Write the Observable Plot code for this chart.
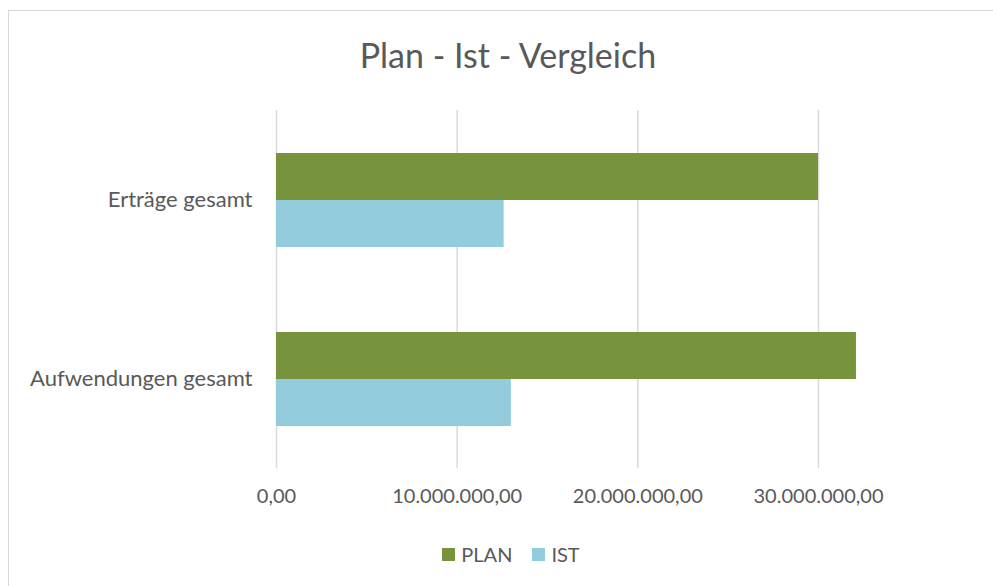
<!DOCTYPE html>
<html>
<head>
<meta charset="utf-8">
<script src="https://cdn.jsdelivr.net/npm/d3@7"></script>
<script src="https://cdn.jsdelivr.net/npm/@observablehq/plot@0.6"></script>
<style>
  html, body { margin: 0; padding: 0; background: #fff; }
  #wrap { position: relative; width: 993px; height: 586px; overflow: hidden; font-family: Lato, "Open Sans", sans-serif; color: #595959; }
  #frame { position: absolute; left: 8px; top: 10px; width: 1200px; height: 800px; border-left: 1.5px solid #d9d9d9; border-top: 1.5px solid #d9d9d9; box-sizing: border-box; }
  #title { position: absolute; left: 8px; width: 1000px; top: 34px; text-align: center; font-size: 34px; line-height: 42px; }
  #chart { position: absolute; left: 0; top: 90px; }
  #chart [aria-label^="fy-axis"] text { font-size: 22px; }
  #legend { position: absolute; left: 8px; width: 1006px; top: 540px; display: flex; justify-content: center; gap: 20px; font-size: 20px; line-height: 28px; }
  .item { display: flex; align-items: center; gap: 6px; }
  .sw { width: 13px; height: 13px; display: inline-block; }
</style>
</head>
<body>
<div id="wrap">
  <div id="frame"></div>
  <div id="title">Plan - Ist - Vergleich</div>
  <div id="chart"></div>
  <div id="legend"></div>
</div>
<script>
const categories = ["Erträge gesamt", "Aufwendungen gesamt"];
const series = ["PLAN", "IST"];
const planValues = [30000000, 32100000];
const istValues = [12600000, 13000000];
const xTicks = [0, 10000000, 20000000, 30000000];
const colors = ["#77933C", "#93CDDD"];

const data = categories.flatMap((c, i) => [
  { category: c, series: "PLAN", value: planValues[i] },
  { category: c, series: "IST", value: istValues[i] }
]);

const de = d3.formatLocale({ decimal: ",", thousands: ".", grouping: [3], currency: ["", " €"] });
const fmt = de.format(",.2f");

const chart = Plot.plot({
  width: 993,
  height: 430,
  marginTop: 20,
  marginBottom: 52,
  marginLeft: 276,
  marginRight: 175,
  style: { fontFamily: "Lato, 'Open Sans', sans-serif", fontSize: "20px", color: "#595959", background: "transparent", overflow: "visible" },
  x: { domain: [0, 30000000], ticks: xTicks, tickFormat: fmt, label: null, tickSize: 0, tickPadding: 20 },
  fy: { domain: categories, padding: 0, label: null, axis: "left", tickSize: 0, tickPadding: 24 },
  y: { domain: series, paddingInner: 0, paddingOuter: 0.904, axis: null },
  color: { domain: series, range: colors },
  marks: [
    Plot.ruleX(xTicks, { x: d => d, stroke: "#d9d9d9", strokeWidth: 1.5 }),
    Plot.barX(data, { x: "value", y: "series", fy: "category", fill: "series" })
  ]
});
document.getElementById("chart").appendChild(chart);

const legend = d3.select("#legend");
series.forEach((s, i) => {
  const it = legend.append("div").attr("class", "item");
  it.append("span").attr("class", "sw").style("background", colors[i]);
  it.append("span").text(s);
});
</script>
</body>
</html>
